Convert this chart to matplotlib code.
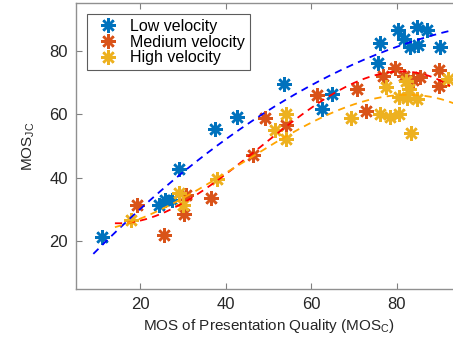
''' scatter of joint MOS against presentation quality MOS, per velocity class
'''
import numpy as np
import matplotlib
import matplotlib.pyplot as plt

matplotlib.use('Agg')

# data (MOS_C, MOS_JC)
low_x = [11.0, 24.3, 25.8, 27.4, 29.2, 37.4, 42.6, 53.7, 62.5, 64.8,
         75.7, 76.1, 80.2, 81.7, 83.1, 85.1, 84.7, 87.0, 90.1]
low_y = [21.3, 31.4, 33.0, 33.0, 42.6, 55.2, 59.2, 69.5, 61.5, 66.2,
         76.0, 82.5, 86.4, 83.5, 81.2, 81.7, 87.3, 86.6, 81.2]

med_x = [19.3, 25.6, 30.7, 30.3, 36.5, 46.5, 49.2, 54.1, 61.3, 70.8,
         72.8, 76.7, 79.6, 81.7, 83.9, 85.5, 90.0, 90.0]
med_y = [31.4, 22.0, 34.6, 28.6, 33.7, 47.1, 58.7, 56.6, 66.0, 67.8,
         61.0, 72.0, 74.4, 72.0, 70.7, 71.6, 73.9, 68.8]

high_x = [17.8, 29.2, 30.1, 37.9, 51.5, 54.1, 54.1, 69.3, 76.0, 78.5,
          80.6, 77.5, 80.6, 82.2, 83.0, 82.4, 84.8, 83.3, 92.1]
high_y = [26.7, 35.3, 31.4, 39.5, 54.9, 60.2, 52.1, 58.7, 60.2, 59.2,
          60.2, 68.4, 65.3, 70.3, 67.8, 65.0, 64.7, 54.2, 70.9]

# trend curves
low_fit_x = [9.05, 30.5, 39.9, 45.7, 61.3, 76.9, 93.2]
low_fit_y = [16.2, 41.9, 51.9, 57.6, 70.2, 79.6, 86.4]
med_fit_x = [14.1, 25.0, 32.8, 39.9, 45.7, 48.4, 57.4, 69.1, 80.8, 92.5]
med_fit_y = [26.4, 28.8, 32.5, 38.2, 49.2, 51.3, 61.8, 68.6, 70.7, 70.2]
high_fit_x = [14.1, 22.7, 32.8, 42.2, 49.2, 50.4, 61.3, 73.0, 84.7, 93.2]
high_fit_y = [25.1, 28.3, 34.6, 41.9, 48.2, 53.4, 59.7, 62.9, 64.4, 64.7]

X_TICKS = [20, 40, 60, 80]
Y_TICKS = [20, 40, 60, 80]

plt.rcParams['font.family'] = ['Liberation Sans', 'DejaVu Sans']
plt.rcParams['mathtext.default'] = 'regular'

fig = plt.figure(figsize=(4.53, 3.46), dpi=100)
ax = fig.add_axes([0.1678, 0.1647, 0.8494, 0.827])

star = (8, 2, 0)
ax.plot(low_x, low_y, linestyle='none', marker=star, ms=10.5, mew=1.8,
        color='#0072BD', label='Low velocity')
ax.plot(med_x, med_y, linestyle='none', marker=star, ms=10.5, mew=1.8,
        color='#D95319', label='Medium velocity')
ax.plot(high_x, high_y, linestyle='none', marker=star, ms=10.5, mew=1.8,
        color='#EDB120', label='High velocity')

# smooth polynomial through the sampled trend points, drawn dashed
xs = np.linspace(low_fit_x[0], 96, 200)
ax.plot(xs, np.polyval(np.polyfit(low_fit_x, low_fit_y, 2), xs),
        color='blue', lw=1.3, dashes=(4, 3))

xs = np.linspace(med_fit_x[0], med_fit_x[-1], 200)
ax.plot(xs, np.polyval(np.polyfit(med_fit_x, med_fit_y, 3), xs),
        color='red', lw=1.3, dashes=(4, 3))

xs = np.linspace(high_fit_x[0], 96, 200)
ax.plot(xs, np.polyval(np.polyfit(high_fit_x, high_fit_y, 3), xs),
        color='#FFA500', lw=1.3, dashes=(4, 3))

ax.set_xlim(5, 95)
ax.set_ylim(5, 95)
ax.set_xticks(X_TICKS)
ax.set_yticks(Y_TICKS)
ax.tick_params(direction='in', length=4, width=0.8, color='#808080',
               labelsize=12, labelcolor='#262626', top=True, right=True, pad=6)
for spine in ax.spines.values():
    spine.set_color('#909090')
    spine.set_linewidth(1.0)

ax.set_xlabel('MOS of Presentation Quality (MOS$_C$)', fontsize=11, color='#262626', labelpad=3)
ax.set_ylabel('MOS$_{JC}$', fontsize=11, color='#262626', labelpad=9)

leg = ax.legend(loc='upper left', fontsize=11.5, frameon=True, fancybox=False,
                borderpad=0.3, handletextpad=0.4, labelspacing=0.05,
                handlelength=2.0, borderaxespad=0, bbox_to_anchor=(0.029, 0.961))
leg.get_frame().set_edgecolor('#333333')
leg.get_frame().set_linewidth(0.8)

plt.savefig('out.png', dpi=100)
plt.close()
